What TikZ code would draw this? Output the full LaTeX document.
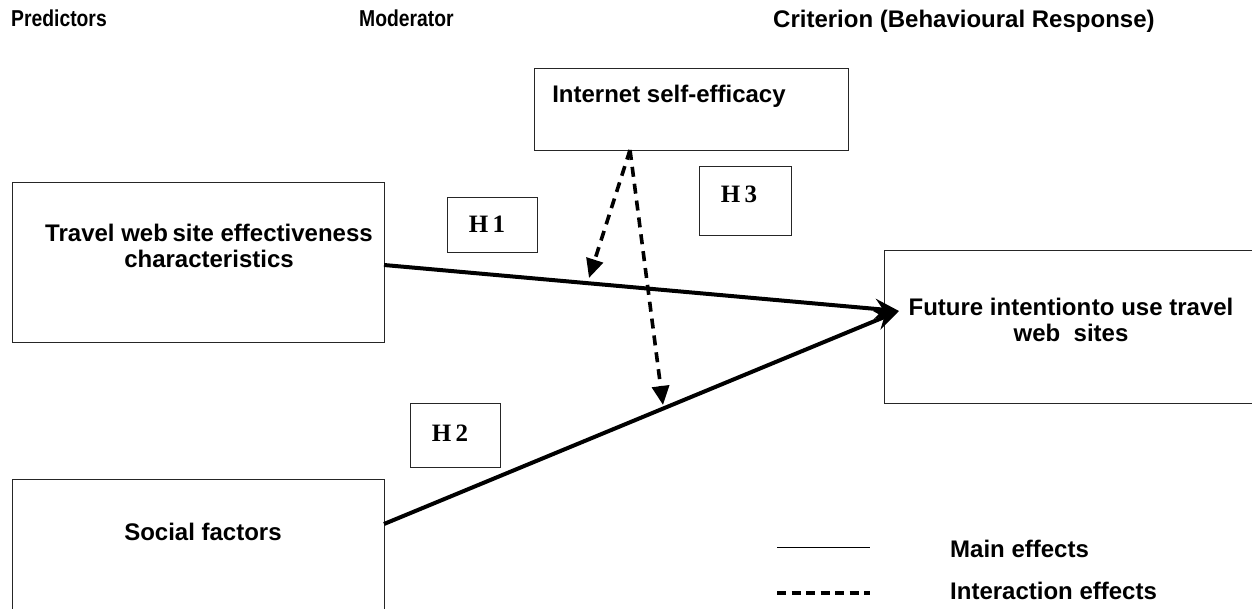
\documentclass[tikz,border=0pt]{standalone}
\usepackage{fontspec}
\setmainfont{Liberation Sans}
\newfontfamily\hfont{Liberation Serif}
\usetikzlibrary{arrows.meta}
\tikzset{
  box/.style={draw=black!85, line width=1.2pt, rectangle, inner sep=0pt, anchor=north west},
  lbl/.style={font=\fontsize{24}{26}\selectfont\bfseries, align=center, inner sep=0pt},
  hlbl/.style={font=\fontsize{25}{26}\selectfont\hfont\bfseries, inner sep=0pt},
  hdr/.style={font=\fontsize{24}{26}\selectfont\bfseries, inner sep=0pt, anchor=west},
  main/.style={line width=4pt, -{Stealth[length=24pt,width=20pt,inset=8pt]}},
  inter/.style={line width=3.6pt, dash pattern=on 10pt off 7pt, -{Triangle[length=19pt,width=17pt]}},
}
\begin{document}
\begin{tikzpicture}[x=1pt,y=-1pt]
\useasboundingbox (0,0) rectangle (1252,609);
\clip (0,0) rectangle (1252,609);
% headers
\node[hdr] (pred) at (11,18) {\scalebox{0.84}[1]{\fontsize{23}{24}\selectfont Predictors}};
\node[hdr] (mod) at (359,18) {\scalebox{0.84}[1]{\fontsize{23}{24}\selectfont Moderator}};
\node[hdr] (crit) at (773,21) {Criterion (Behavioural Response)};
% boxes
\node[box, minimum width=372pt, minimum height=160pt] (travel) at (12,182) {};
\node[box, minimum width=372pt, minimum height=180pt] (social) at (12,479) {};
\node[box, minimum width=390pt, minimum height=153pt] (future) at (884,250) {};
\node[box, minimum width=314pt, minimum height=82pt] (ise) at (534,68) {};
\node[box, minimum width=90pt, minimum height=55pt] (h1) at (447,197) {};
\node[box, minimum width=92pt, minimum height=69pt] (h3) at (699,166) {};
\node[box, minimum width=90pt, minimum height=64pt] (h2) at (410,403) {};
% texts
\node[lbl] (travelt) at (209,246) {Travel web\kern-2pt\ site effectiveness\\characteristics};
\node[lbl] (socialt) at (203,532) {Social factors};
\node[lbl] (futuret) at (1071,320) {Future intention\kern-6pt\ to use travel\\web\ \ sites};
\node[lbl] (iset) at (669,96) {Internet self-efficacy};
\node[hlbl] (h1t) at (487,224) {H\,1};
\node[hlbl] (h3t) at (739,194) {H\,3};
\node[hlbl] (h2t) at (450,433) {H\,2};
% connector points
\coordinate (ts) at (384,265);
\coordinate (ss) at (384,524);
\coordinate (tip) at (899,311);
\coordinate (io) at (630,150);
\coordinate (d1) at (589,278);
\coordinate (d2) at (663,405);
\draw[main] (ts) -- (tip);
\draw[main] (ss) -- (tip);
\draw[inter] (io) -- (d1);
\draw[inter] (io) -- (d2);
% legend
\coordinate (l1a) at (777,547);
\coordinate (l1b) at (870,547);
\coordinate (l2a) at (777,593);
\coordinate (l2b) at (870,593);
\draw[line width=1pt] (l1a) -- (l1b);
\draw[line width=3.2pt, dash pattern=on 9pt off 5.5pt] (l2a) -- (l2b);
\node[hdr] (mainl) at (950,549) {Main effects};
\node[hdr] (interl) at (950,591) {Interaction effects};
\end{tikzpicture}
\end{document}
